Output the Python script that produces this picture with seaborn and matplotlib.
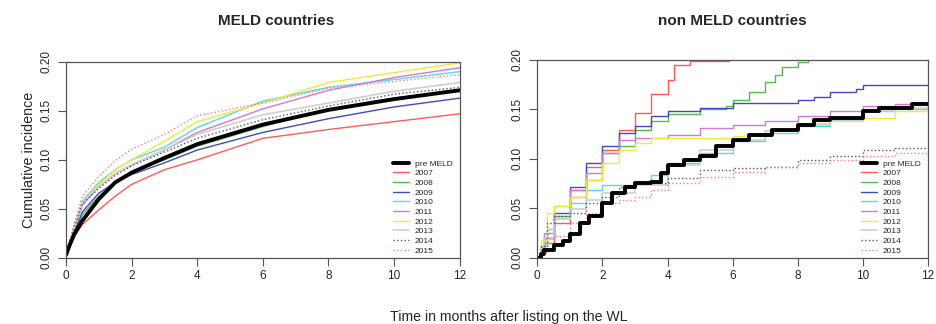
import numpy as np
import pandas as pd
import matplotlib
matplotlib.use('Agg')
import matplotlib.pyplot as plt
from matplotlib.lines import Line2D
import seaborn as sns

sns.set_style('ticks')
plt.rcParams['font.family'] = ['Liberation Sans', 'DejaVu Sans']

# series names and styles
years = ['pre MELD', '2007', '2008', '2009', '2010', '2011', '2012', '2013', '2014', '2015']
colors = ['black', '#ff5a5a', '#4cbf4c', '#4747c2', '#5cd6e6', '#d07ad0',
          '#ecec3a', '#cfcfcf', '#555555', '#ff7a7a']
styles = ['-', '-', '-', '-', '-', '-', '-', '-', ':', ':']
widths = [2.8, 1, 1, 1, 1, 1, 1, 1.2, 1, 1]

# MELD countries: cumulative incidence at these months
t_meld = [0, 0.1, 0.25, 0.5, 1, 1.5, 2, 3, 4, 6, 8, 10, 12]
meld_pre = [0.003, 0.012, 0.024, 0.038, 0.060, 0.077, 0.087, 0.102, 0.116, 0.136, 0.151, 0.162, 0.171]
meld_2007 = [0.003, 0.010, 0.022, 0.034, 0.049, 0.063, 0.075, 0.090, 0.100, 0.122, 0.131, 0.139, 0.147]
meld_2008 = [0.003, 0.012, 0.026, 0.044, 0.063, 0.076, 0.088, 0.100, 0.114, 0.134, 0.152, 0.163, 0.171]
meld_2009 = [0.003, 0.012, 0.026, 0.047, 0.066, 0.077, 0.085, 0.097, 0.110, 0.128, 0.142, 0.154, 0.163]
meld_2010 = [0.003, 0.015, 0.032, 0.058, 0.077, 0.090, 0.100, 0.113, 0.133, 0.160, 0.174, 0.182, 0.190]
meld_2011 = [0.003, 0.014, 0.030, 0.054, 0.073, 0.086, 0.095, 0.110, 0.128, 0.152, 0.171, 0.184, 0.194]
meld_2012 = [0.003, 0.015, 0.032, 0.056, 0.075, 0.090, 0.100, 0.119, 0.139, 0.158, 0.179, 0.189, 0.199]
meld_2013 = [0.003, 0.015, 0.031, 0.057, 0.073, 0.086, 0.095, 0.110, 0.126, 0.146, 0.158, 0.170, 0.179]
meld_2014 = [0.003, 0.014, 0.030, 0.055, 0.071, 0.084, 0.094, 0.108, 0.122, 0.141, 0.155, 0.167, 0.174]
meld_2015 = [0.003, 0.017, 0.035, 0.063, 0.083, 0.099, 0.111, 0.126, 0.145, 0.158, 0.173, 0.180, 0.187]
meld_vals = [meld_pre, meld_2007, meld_2008, meld_2009, meld_2010, meld_2011,
             meld_2012, meld_2013, meld_2014, meld_2015]

# non MELD countries: step points (month, cumulative incidence)
nm_pre_t = [0, 0.1, 0.2, 0.5, 0.8, 1, 1.3, 1.6, 2, 2.3, 2.7, 3, 3.5, 3.8, 4, 4.5, 5, 5.5, 6, 6.5, 7.2, 8, 8.5, 9, 10, 10.5, 11.5, 12]
nm_pre_v = [0, 0.004, 0.008, 0.013, 0.017, 0.024, 0.035, 0.042, 0.055, 0.066, 0.072, 0.076, 0.077, 0.086, 0.094, 0.099, 0.103, 0.113, 0.119, 0.124, 0.129, 0.134, 0.139, 0.141, 0.148, 0.151, 0.155, 0.155]
nm_2007_t = [0, 0.1, 0.2, 0.5, 1, 1.5, 2, 2.5, 3, 3.5, 4, 4.2, 4.7, 5.9]
nm_2007_v = [0, 0.008, 0.015, 0.035, 0.062, 0.092, 0.109, 0.129, 0.146, 0.166, 0.180, 0.195, 0.199, 0.200]
nm_2008_t = [0, 0.1, 0.2, 0.5, 1, 1.5, 2, 2.5, 3, 3.5, 4, 5, 5.8, 6, 6.5, 7, 7.3, 7.5, 8, 8.3]
nm_2008_v = [0, 0.01, 0.02, 0.042, 0.069, 0.079, 0.106, 0.113, 0.129, 0.138, 0.145, 0.150, 0.153, 0.160, 0.168, 0.178, 0.185, 0.193, 0.198, 0.200]
nm_2009_t = [0, 0.1, 0.2, 0.5, 1, 1.5, 2, 2.5, 3, 3.5, 4, 5, 6, 8, 8.5, 9, 9.8, 10, 12]
nm_2009_v = [0, 0.01, 0.02, 0.045, 0.072, 0.096, 0.113, 0.126, 0.133, 0.143, 0.148, 0.151, 0.157, 0.160, 0.163, 0.168, 0.171, 0.175, 0.175]
nm_2010_t = [0, 0.1, 0.3, 0.5, 1, 1.5, 2, 3, 3.5, 4, 5, 6, 7, 8, 9, 10, 11, 12]
nm_2010_v = [0, 0.012, 0.029, 0.040, 0.055, 0.069, 0.074, 0.077, 0.084, 0.096, 0.106, 0.118, 0.126, 0.133, 0.139, 0.148, 0.150, 0.155]
nm_2011_t = [0, 0.1, 0.2, 0.5, 1, 1.5, 2, 2.5, 3, 4, 5, 6, 7, 8, 9, 10, 11, 12]
nm_2011_v = [0, 0.012, 0.025, 0.052, 0.069, 0.086, 0.106, 0.119, 0.121, 0.124, 0.131, 0.134, 0.138, 0.143, 0.148, 0.153, 0.155, 0.156]
nm_2012_t = [0, 0.1, 0.3, 0.5, 1, 1.5, 2, 2.5, 3, 3.5, 6, 7, 8, 9, 10, 11, 12]
nm_2012_v = [0, 0.018, 0.045, 0.052, 0.062, 0.079, 0.096, 0.109, 0.116, 0.121, 0.123, 0.129, 0.136, 0.138, 0.141, 0.148, 0.153]
nm_2013_t = [0, 0.1, 0.2, 0.5, 1, 1.5, 2, 3, 4, 5, 6, 7, 8, 9, 10, 11, 12]
nm_2013_v = [0, 0.01, 0.02, 0.039, 0.049, 0.059, 0.066, 0.074, 0.094, 0.109, 0.119, 0.128, 0.134, 0.139, 0.148, 0.151, 0.155]
nm_2014_t = [0, 0.1, 0.3, 0.5, 1, 1.5, 2, 2.5, 3, 4, 5, 6, 7, 8, 9, 10, 11, 12]
nm_2014_v = [0, 0.012, 0.035, 0.042, 0.045, 0.055, 0.062, 0.072, 0.076, 0.081, 0.089, 0.091, 0.092, 0.099, 0.103, 0.109, 0.111, 0.113]
nm_2015_t = [0, 0.1, 0.3, 0.5, 1, 1.5, 2, 2.5, 3, 3.5, 4, 5, 6, 7, 8, 9, 10, 11, 12]
nm_2015_v = [0, 0.006, 0.015, 0.022, 0.035, 0.045, 0.055, 0.059, 0.062, 0.069, 0.076, 0.082, 0.087, 0.092, 0.096, 0.099, 0.103, 0.106, 0.111]
nm_t = [nm_pre_t, nm_2007_t, nm_2008_t, nm_2009_t, nm_2010_t, nm_2011_t,
        nm_2012_t, nm_2013_t, nm_2014_t, nm_2015_t]
nm_v = [nm_pre_v, nm_2007_v, nm_2008_v, nm_2009_v, nm_2010_v, nm_2011_v,
        nm_2012_v, nm_2013_v, nm_2014_v, nm_2015_v]

fig = plt.figure(figsize=(9.36, 3.24), dpi=100)
ax1 = fig.add_axes([0.0705, 0.204, 0.4205, 0.605])
ax2 = fig.add_axes([0.574, 0.204, 0.4175, 0.611])

# draw colored first, pre MELD on top
order = list(range(1, 10)) + [0]
for i in order:
    df = pd.DataFrame({'t': t_meld, 'v': meld_vals[i]})
    sns.lineplot(data=df, x='t', y='v', ax=ax1, color=colors[i], linestyle=styles[i],
                 linewidth=widths[i], estimator=None, sort=False, legend=False)
    df2 = pd.DataFrame({'t': nm_t[i], 'v': nm_v[i]})
    sns.lineplot(data=df2, x='t', y='v', ax=ax2, color=colors[i], linestyle=styles[i],
                 linewidth=widths[i], estimator=None, sort=False, drawstyle='steps-post',
                 legend=False)

handles = [Line2D([], [], color=colors[i], linestyle=styles[i], linewidth=widths[i])
           for i in range(len(years))]

for ax in [ax1, ax2]:
    ax.set_xlim(0, 12)
    ax.set_ylim(0, 0.2)
    ax.set_xticks([0, 2, 4, 6, 8, 10, 12])
    ax.set_yticks([0, 0.05, 0.10, 0.15, 0.20])
    ax.set_yticklabels(['0.00', '0.05', '0.10', '0.15', '0.20'], rotation=90, va='center')
    ax.tick_params(axis='both', labelsize=8.5, length=6, width=0.8, color='#555555', pad=3)
    ax.tick_params(axis='y', pad=4)
    for s in ax.spines.values():
        s.set_color('#555555')
        s.set_linewidth(0.9)
    ax.set_xlabel('')
    ax.set_ylabel('')
    ax.legend(handles, years, loc='lower right', bbox_to_anchor=(0.99, 0.0),
              frameon=False, fontsize=6, handlelength=1.9, labelspacing=0.22,
              handletextpad=0.7, borderaxespad=0.2, borderpad=0.2)

fig.text(276 / 936, 0.935, 'MELD countries', ha='center', va='center',
         fontsize=11, fontweight='bold')
fig.text(732 / 936, 0.935, 'non MELD countries', ha='center', va='center',
         fontsize=11, fontweight='bold')
ax1.set_ylabel('Cumulative incidence', fontsize=10.3, labelpad=3)
fig.text(509 / 936, 1 - 317 / 324, 'Time in months after listing on the WL',
         ha='center', va='center', fontsize=10.2)

fig.savefig('out.png', dpi=100)
